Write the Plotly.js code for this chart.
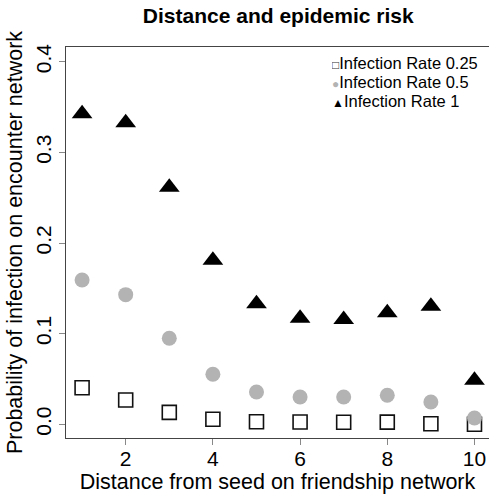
<!DOCTYPE html>
<html>
<head>
<meta charset="utf-8">
<script src="https://cdn.plot.ly/plotly-3.0.1.min.js"></script>
<style>html,body{margin:0;padding:0;background:#fff;}#chart{width:489px;height:498px;}</style>
</head>
<body>
<div id="chart"></div>
<script>
// Data
const distance = [1, 2, 3, 4, 5, 6, 7, 8, 9, 10];
const rate025 = [0.0404, 0.0268, 0.0132, 0.0055, 0.0029, 0.0025, 0.0022, 0.0024, 0.0007, 0.0000];
const rate05  = [0.1592, 0.1430, 0.0949, 0.0552, 0.0356, 0.0301, 0.0301, 0.0320, 0.0246, 0.0069];
const rate1   = [0.3425, 0.3326, 0.2614, 0.1810, 0.1330, 0.1171, 0.1157, 0.1230, 0.1303, 0.0486];
const seriesNames = ['Infection Rate 0.25', 'Infection Rate 0.5', 'Infection Rate 1'];
const xTicks = [2, 4, 6, 8, 10];
const yTicks = [0.0, 0.1, 0.2, 0.3, 0.4];
const yTickText = ['0.0', '0.1', '0.2', '0.3', '0.4'];

const FONT = 'Liberation Sans, Arial, Helvetica, sans-serif';

const traces = [
  {x: distance, y: rate025, name: seriesNames[0], type: 'scatter', mode: 'markers',
   marker: {symbol: 'square-open', size: 14, color: '#111', line: {width: 1.6, color: '#111'}}},
  {x: distance, y: rate05, name: seriesNames[1], type: 'scatter', mode: 'markers',
   marker: {symbol: 'circle', size: 15, color: '#b3b3b3', line: {width: 0}}},
  {x: distance, y: rate1, name: seriesNames[2], type: 'scatter', mode: 'markers',
   marker: {symbol: 'triangle-up', size: 18, color: '#000', line: {width: 0}}}
];

const legendSymbols = [
  '<span style="color:#333;font-size:12px">□</span>',
  '<span style="color:#b3b3b3;font-size:12px">●</span>',
  '<span style="color:#000;font-size:12px">▲</span>'
];
const legendY = [0.960, 0.912, 0.864];
const annotations = seriesNames.map((n, i) => ({
  xref: 'paper', yref: 'paper', x: 0.628, y: legendY[i], xanchor: 'left', yanchor: 'middle',
  height: 15, borderpad: 0, borderwidth: 0, showarrow: false, text: legendSymbols[i] + n,
  font: {family: FONT, size: 16.5, color: '#000'}
}));

const layout = {
  width: 489, height: 498,
  margin: {l: 66, r: 0, t: 47, b: 60, pad: 0},
  paper_bgcolor: '#fff', plot_bgcolor: '#fff',
  showlegend: false,
  font: {family: FONT, color: '#000'},
  title: {text: '<b>Distance and epidemic risk</b>', font: {family: FONT, size: 21, color: '#000'},
          x: 0.569, xanchor: 'center', y: 0.984, yanchor: 'top'},
  xaxis: {
    range: [0.631, 10.333], tickvals: xTicks, ticktext: xTicks.map(String),
    ticks: 'outside', ticklen: 6, tickcolor: '#888', tickwidth: 1,
    showline: true, linecolor: '#444', linewidth: 1, mirror: true,
    showgrid: false, zeroline: false, ticklabelstandoff: -4,
    tickfont: {family: FONT, size: 21, color: '#000'},
    title: {text: 'Distance from seed on friendship network', font: {family: FONT, size: 21.5, color: '#000'}, standoff: 3},
    automargin: true
  },
  yaxis: {
    range: [-0.0151, 0.4162], tickvals: yTicks, ticktext: yTickText, tickangle: -90,
    ticks: 'outside', ticklen: 6, tickcolor: '#888', tickwidth: 1,
    showline: true, linecolor: '#444', linewidth: 1, mirror: true,
    showgrid: false, zeroline: false,
    tickfont: {family: FONT, size: 21, color: '#000'},
    title: {text: 'Probability of infection on encounter network', font: {family: FONT, size: 21.5, color: '#000'}, standoff: 3},
    automargin: true
  },
  annotations: annotations
};

Plotly.newPlot('chart', traces, layout, {displayModeBar: false, staticPlot: true});
</script>
</body>
</html>
